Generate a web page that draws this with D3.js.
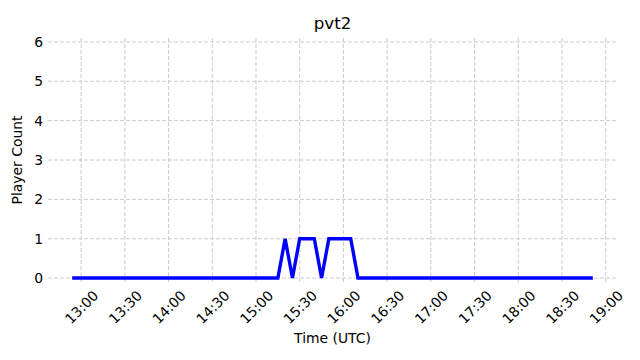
<!DOCTYPE html>
<html>
<head>
<meta charset="utf-8">
<script src="https://cdn.jsdelivr.net/npm/d3@7"></script>
<style>
  html, body { margin: 0; padding: 0; background: #fff; }
  text { font-family: "DejaVu Sans", sans-serif; fill: #000; }
</style>
</head>
<body>
<svg id="chart" width="640" height="360"></svg>
<script>
// breakpoints of the series (5 min sampling, only where the value changes)
var times = ["12:55", "15:15", "15:20", "15:25", "15:30", "15:40", "15:45", "15:50", "16:05", "16:10", "18:50"];
var counts = [0, 0, 1, 0, 1, 1, 0, 1, 1, 0, 0];

var xTickLabels = ["13:00", "13:30", "14:00", "14:30", "15:00", "15:30", "16:00",
  "16:30", "17:00", "17:30", "18:00", "18:30", "19:00"];
var yTicks = [0, 1, 2, 3, 4, 5, 6];

var title = "pvt2";
var xLabel = "Time (UTC)";
var yLabel = "Player Count";

// parse "HH:MM" onto a fixed day
var parseT = d3.utcParse("%Y-%m-%d %H:%M");
function toDate(s) { return parseT("2024-01-01 " + s); }

var points = times.map(function(t, i) {
  return {t: toDate(t), v: counts[i]};
});

var margin = {top: 38, right: 23, bottom: 78, left: 48},
  width = 640 - margin.left - margin.right,
  height = 360 - margin.top - margin.bottom;

// matplotlib style 5% padding on x
var ext = d3.extent(points, function(d) { return d.t; });
var pad = (ext[1] - ext[0]) * 0.05;

var x = d3.scaleUtc()
  .domain([new Date(+ext[0] - pad), new Date(+ext[1] + pad)])
  .range([0, width]);

var y = d3.scaleLinear()
  .domain([-0.1, 6.1])
  .range([height, 0]);

var svg = d3.select("#chart")
  .append("g")
  .attr("transform", "translate(" + margin.left + "," + margin.top + ")");

// ### GRID
var xTicks = xTickLabels.map(toDate);
var gridColor = "#c6c6c6";

svg.selectAll("line.vgrid")
  .data(xTicks)
  .enter().append("line")
  .attr("class", "vgrid")
  .attr("x1", function(d) { return x(d); })
  .attr("x2", function(d) { return x(d); })
  .attr("y1", 0)
  .attr("y2", height)
  .attr("stroke", gridColor)
  .attr("stroke-width", 0.9)
  .attr("stroke-dasharray", "4,2");

svg.selectAll("line.hgrid")
  .data(yTicks)
  .enter().append("line")
  .attr("class", "hgrid")
  .attr("x1", 0)
  .attr("x2", width)
  .attr("y1", function(d) { return y(d); })
  .attr("y2", function(d) { return y(d); })
  .attr("stroke", gridColor)
  .attr("stroke-width", 0.9)
  .attr("stroke-dasharray", "4,2");

// ### AXES (no spines, no tick marks)
var yAxis = svg.append("g")
  .call(d3.axisLeft(y).tickValues(yTicks).tickSize(0).tickPadding(5).tickFormat(d3.format("d")));
yAxis.select(".domain").remove();
yAxis.selectAll("text")
  .attr("font-family", "DejaVu Sans")
  .attr("font-size", "13.9px")
  .attr("fill", "#000");

var xAxis = svg.append("g")
  .attr("transform", "translate(0," + height + ")")
  .call(d3.axisBottom(x).tickValues(xTicks).tickSize(0).tickFormat(function(d, i) { return xTickLabels[i]; }));
xAxis.select(".domain").remove();
xAxis.selectAll("text")
  .attr("font-family", "DejaVu Sans")
  .attr("font-size", "13.9px")
  .attr("fill", "#000")
  .attr("text-anchor", "middle")
  .attr("dy", null)
  .attr("dominant-baseline", "central")
  .attr("y", 25)
  .attr("transform", "rotate(-45 0 25)");

// ### LINE
var line = d3.line()
  .x(function(d) { return x(d.t); })
  .y(function(d) { return y(d.v); });

svg.append("path")
  .datum(points)
  .attr("fill", "none")
  .attr("stroke", "#0000ff")
  .attr("stroke-width", 3.4)
  .attr("stroke-linejoin", "miter")
  .attr("stroke-linecap", "square")
  .attr("d", line);

// ### LABELS
svg.append("text")
  .attr("x", width / 2)
  .attr("y", -9.5)
  .attr("text-anchor", "middle")
  .attr("font-size", "16.7px")
  .text(title);

svg.append("text")
  .attr("x", width / 2)
  .attr("y", height + 61)
  .attr("text-anchor", "middle")
  .attr("font-size", "13.9px")
  .text(xLabel);

svg.append("text")
  .attr("transform", "translate(" + (-26) + "," + (height / 2) + ") rotate(-90)")
  .attr("text-anchor", "middle")
  .attr("font-size", "13.9px")
  .text(yLabel);
</script>
</body>
</html>
